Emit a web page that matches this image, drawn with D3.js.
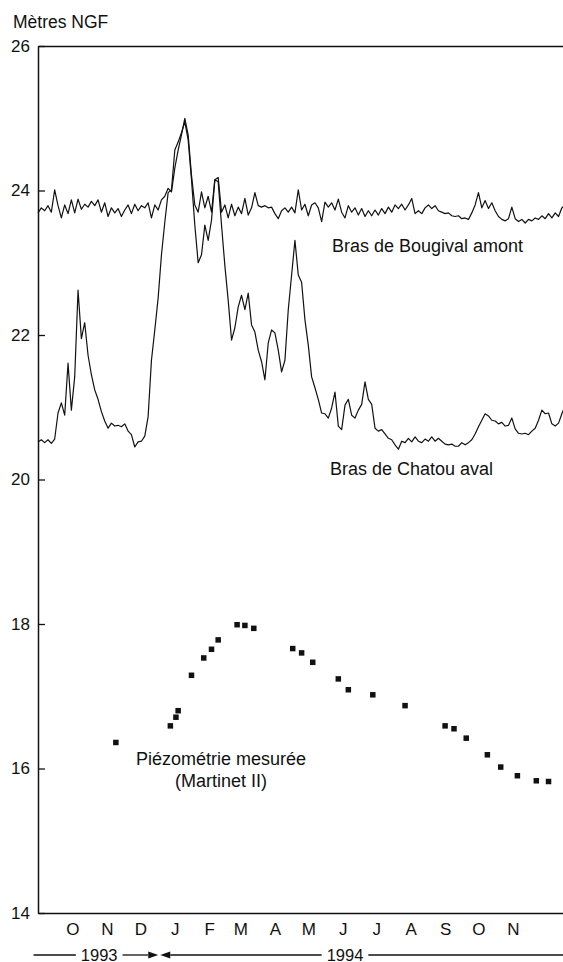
<!DOCTYPE html>
<html>
<head>
<meta charset="utf-8">
<script src="https://cdn.jsdelivr.net/npm/d3@7"></script>
<style>
  body { margin: 0; background: #fff; }
  svg text { font-family: "Liberation Sans", Arial, sans-serif; fill: #111; }
</style>
</head>
<body>
<div id="chart"></div>
<script>
// ----- data -----

// water level series, one value every 3 days from the start date
let seriesStart = "1993-09-14";
let stepDays = 3;

let bougival = [
    23.69, 23.76, 23.72, 23.79, 23.70, 24.01, 23.79, 23.62, 23.80, 23.68,
    23.87, 23.69, 23.88, 23.74, 23.81, 23.77, 23.85, 23.79, 23.87, 23.70,
    23.83, 23.64, 23.76, 23.69, 23.75, 23.64, 23.73, 23.80, 23.68, 23.81,
    23.72, 23.79, 23.76, 23.83, 23.62, 23.80, 23.73, 23.87, 23.92, 24.03,
    23.98, 24.31, 24.56, 24.77, 25.00, 24.77, 24.21, 23.80, 23.70, 23.98,
    23.76, 23.92, 23.70, 24.15, 24.18, 23.70, 23.80, 23.62, 23.81, 23.65,
    23.77, 23.68, 23.89, 23.66, 23.76, 23.97, 23.79, 23.77, 23.79, 23.76,
    23.77, 23.68, 23.61, 23.72, 23.76, 23.70, 23.77, 23.69, 24.01, 23.73,
    23.81, 23.65, 23.80, 23.83, 23.76, 23.57, 23.84, 23.77, 23.83, 23.73,
    23.88, 23.70, 23.62, 23.79, 23.70, 23.76, 23.66, 23.75, 23.64, 23.72,
    23.65, 23.73, 23.66, 23.75, 23.68, 23.77, 23.70, 23.80, 23.75, 23.81,
    23.73, 23.80, 23.89, 23.68, 23.72, 23.68, 23.76, 23.80, 23.75, 23.79,
    23.72, 23.70, 23.68, 23.69, 23.65, 23.64, 23.65, 23.61, 23.62, 23.60,
    23.69, 23.80, 23.97, 23.76, 23.86, 23.75, 23.83, 23.72, 23.64, 23.60,
    23.58, 23.61, 23.77, 23.61, 23.57, 23.60, 23.55, 23.60, 23.58, 23.62,
    23.60, 23.65, 23.61, 23.68, 23.62, 23.69, 23.64, 23.76, 23.80
];

let chatou = [
    20.52, 20.55, 20.51, 20.55, 20.50, 20.56, 20.92, 21.06, 20.89, 21.61,
    20.96, 21.42, 22.62, 21.95, 22.17, 21.72, 21.45, 21.24, 21.11, 20.94,
    20.81, 20.71, 20.78, 20.74, 20.75, 20.73, 20.77, 20.67, 20.62, 20.45,
    20.52, 20.53, 20.60, 20.87, 21.65, 22.07, 22.51, 23.11, 23.56, 23.97,
    24.01, 24.56, 24.67, 24.80, 24.95, 24.70, 24.15, 23.52, 23.00, 23.11,
    23.52, 23.31, 23.59, 24.15, 24.12, 23.52, 22.96, 22.48, 21.93, 22.10,
    22.39, 22.55, 22.35, 22.58, 22.14, 22.04, 21.79, 21.63, 21.38, 21.89,
    22.07, 22.03, 21.79, 21.49, 21.65, 22.35, 22.83, 23.31, 22.83, 22.73,
    22.21, 21.86, 21.42, 21.27, 21.11, 20.92, 20.91, 20.85, 20.99, 21.21,
    20.74, 20.69, 21.03, 21.11, 20.89, 20.85, 20.96, 21.04, 21.35, 21.11,
    21.04, 20.71, 20.67, 20.69, 20.63, 20.57, 20.55, 20.48, 20.42, 20.53,
    20.51, 20.57, 20.52, 20.59, 20.53, 20.51, 20.56, 20.53, 20.59, 20.53,
    20.57, 20.53, 20.49, 20.48, 20.49, 20.46, 20.46, 20.51, 20.48, 20.51,
    20.55, 20.63, 20.73, 20.82, 20.91, 20.88, 20.82, 20.81, 20.77, 20.79,
    20.74, 20.75, 20.85, 20.70, 20.64, 20.63, 20.64, 20.62, 20.67, 20.71,
    20.82, 20.96, 20.91, 20.92, 20.77, 20.74, 20.78, 20.91, 21.03
];

// measured piezometry (Martinet II)
let piezoDates = [
    "1993-11-23", "1994-01-11", "1994-01-16", "1994-01-18", "1994-01-30",
    "1994-02-10", "1994-02-17", "1994-02-23", "1994-03-12", "1994-03-19",
    "1994-03-27", "1994-05-01", "1994-05-09", "1994-05-19", "1994-06-11",
    "1994-06-20", "1994-07-12", "1994-08-10", "1994-09-15", "1994-09-23",
    "1994-10-04", "1994-10-23", "1994-11-04", "1994-11-19", "1994-12-06",
    "1994-12-17"
];
let piezoValues = [
    16.36, 16.59, 16.71, 16.80, 17.29, 17.53, 17.65, 17.78, 17.99, 17.98,
    17.94, 17.66, 17.60, 17.47, 17.24, 17.09, 17.02, 16.87, 16.59, 16.55,
    16.42, 16.19, 16.02, 15.90, 15.83, 15.82
];

// axes
let yTicks = [14, 16, 18, 20, 22, 24, 26];
let monthDates = [
    "1993-10-15", "1993-11-15", "1993-12-15", "1994-01-15", "1994-02-15",
    "1994-03-15", "1994-04-15", "1994-05-15", "1994-06-15", "1994-07-15",
    "1994-08-15", "1994-09-15", "1994-10-15", "1994-11-15"
];
let monthLabels = ["O", "N", "D", "J", "F", "M", "A", "M", "J", "J", "A", "S", "O", "N"];
let years = ["1993", "1994"];
let yearStarts = ["1993-09-10", "1994-01-01"];
let yearEnds = ["1994-01-01", "1994-12-30"];
let yearLabelDates = ["1993-11-08", "1994-06-17"];
let axisStart = "1993-09-14";
let axisEnd = "1994-12-30";

// ----- chart -----

let parse = d3.timeParse("%Y-%m-%d");

let svgWidth = 563;
let svgHeight = 962;
let plotLeft = 38;
let plotTop = 46;
let plotBottom = 913;

let svg = d3
    .select("#chart")
    .append("svg")
    .attr("width", svgWidth)
    .attr("height", svgHeight);

let x = d3
    .scaleTime()
    .domain([parse(axisStart), parse(axisEnd)])
    .range([plotLeft, svgWidth]);

let y = d3
    .scaleLinear()
    .domain([14, 26])
    .range([plotBottom, plotTop]);

function toPoints(values) {
    let start = parse(seriesStart);
    return values.map((v, i) => ({
        date: d3.timeDay.offset(start, i * stepDays),
        value: v
    }));
}

let line = d3
    .line()
    .x(d => x(d.date))
    .y(d => y(d.value));

svg.append("path")
    .datum(toPoints(chatou))
    .attr("fill", "none")
    .attr("stroke", "#111")
    .attr("stroke-width", 1.2)
    .attr("stroke-linejoin", "round")
    .attr("d", line);

svg.append("path")
    .datum(toPoints(bougival))
    .attr("fill", "none")
    .attr("stroke", "#111")
    .attr("stroke-width", 1.2)
    .attr("stroke-linejoin", "round")
    .attr("d", line);

let sq = 5.5;
svg.selectAll("rect.piezo")
    .data(piezoValues)
    .enter()
    .append("rect")
    .attr("class", "piezo")
    .attr("x", (d, i) => x(parse(piezoDates[i])) - sq / 2)
    .attr("y", d => y(d) - sq / 2)
    .attr("width", sq)
    .attr("height", sq)
    .attr("fill", "#111");

// axes
let axisY = d3.axisLeft(y)
    .tickValues(yTicks)
    .tickSizeInner(-7)
    .tickSizeOuter(0)
    .tickPadding(8);

let groupY = svg.append("g")
    .attr("transform", `translate(${plotLeft}, 0)`)
    .call(axisY);

let axisX = d3.axisBottom(x)
    .tickValues(monthDates.map(parse))
    .tickFormat((d, i) => monthLabels[i])
    .tickSize(0)
    .tickPadding(10);

let groupX = svg.append("g")
    .attr("transform", `translate(0, ${plotBottom})`)
    .call(axisX);

let groupTop = svg.append("g")
    .attr("transform", `translate(0, ${plotTop})`)
    .call(d3.axisTop(x).tickValues([]).tickSizeOuter(0));

[groupY, groupX, groupTop].forEach(g => {
    g.select(".domain").attr("stroke", "#111").attr("stroke-width", 1.5);
    g.selectAll(".tick line").attr("stroke", "#111").attr("stroke-width", 1.3);
    g.selectAll("text")
        .attr("font-family", "Liberation Sans, Arial, sans-serif")
        .attr("font-size", 17)
        .attr("fill", "#111");
});

svg.append("text")
    .attr("x", 13)
    .attr("y", 28)
    .attr("font-size", 17.5)
    .text("Mètres NGF");

// series labels
svg.append("text")
    .attr("x", 332)
    .attr("y", 252)
    .attr("font-size", 18)
    .text("Bras de Bougival amont");

svg.append("text")
    .attr("x", 330)
    .attr("y", 475)
    .attr("font-size", 18)
    .text("Bras de Chatou aval");

svg.append("text")
    .attr("x", 221)
    .attr("y", 765)
    .attr("text-anchor", "middle")
    .attr("font-size", 18)
    .text("Piézométrie mesurée");

svg.append("text")
    .attr("x", 221)
    .attr("y", 787)
    .attr("text-anchor", "middle")
    .attr("font-size", 18)
    .text("(Martinet II)");

// year strip with arrows
let yearY = 955;
let gap = 5;
let arrowLen = 10;
let arrowHalf = 3.5;

years.forEach((label, i) => {
    let x0 = x(parse(yearStarts[i]));
    let x1 = x(parse(yearEnds[i]));
    let tx = x(parse(yearLabelDates[i]));
    let t = svg.append("text")
        .attr("x", tx)
        .attr("y", yearY + 5.5)
        .attr("text-anchor", "middle")
        .attr("font-size", 16.5)
        .text(label);
    let w = t.node().getComputedTextLength();
    let a = i == 0 ? x0 : x0 + 1 + arrowLen;
    let b = i == 0 ? x1 - 1 - arrowLen : x1;
    svg.append("line")
        .attr("x1", a).attr("x2", tx - w / 2 - gap)
        .attr("y1", yearY).attr("y2", yearY)
        .attr("stroke", "#111").attr("stroke-width", 1.3);
    svg.append("line")
        .attr("x1", tx + w / 2 + gap).attr("x2", b)
        .attr("y1", yearY).attr("y2", yearY)
        .attr("stroke", "#111").attr("stroke-width", 1.3);
    if (i == 0) {
        let tip = x1 - 1;
        svg.append("path")
            .attr("d", `M${tip},${yearY}L${tip - arrowLen},${yearY - arrowHalf}L${tip - arrowLen},${yearY + arrowHalf}Z`)
            .attr("fill", "#111");
    } else {
        let tip = x0 + 1;
        svg.append("path")
            .attr("d", `M${tip},${yearY}L${tip + arrowLen},${yearY - arrowHalf}L${tip + arrowLen},${yearY + arrowHalf}Z`)
            .attr("fill", "#111");
    }
});
</script>
</body>
</html>
